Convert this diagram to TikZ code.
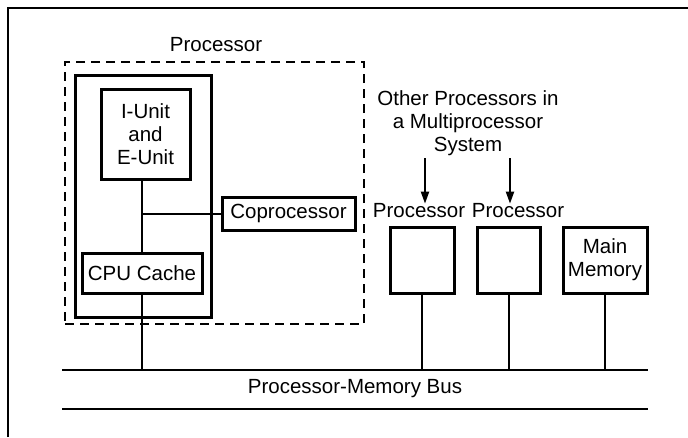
\documentclass[tikz,border=0pt]{standalone}
\usepackage{fontspec}
\setmainfont{Liberation Sans}
\usetikzlibrary{arrows.meta}
\begin{document}
\begin{tikzpicture}[x=1pt,y=-1pt,
  txt/.style={font=\fontsize{20.5}{23}\selectfont, inner sep=0pt, align=center},
  unitbox/.style={draw, line width=3pt, inner sep=0pt, font=\fontsize{20.5}{23}\selectfont, align=center},
  wire/.style={line width=2pt},
  busline/.style={line width=2.5pt},
  arr/.style={line width=2pt, -{Triangle[length=12pt,width=8pt]}}]
\useasboundingbox (0,0) rectangle (688,437);
% frame
\coordinate (fTL) at (8,8);
\coordinate (fTR) at (688,8);
\coordinate (fBL) at (8,437);
\draw[line width=1.3pt] (fBL) -- (fTL) -- (fTR);
% processor group
\node[txt] (proclab) at (216,45) {Processor};
\node[draw, dash pattern=on 9pt off 6pt, line width=2pt, minimum width=299pt, minimum height=262pt, inner sep=0pt] (dash) at (214.5,193) {};
\node[draw, line width=3pt, minimum width=136pt, minimum height=242pt, inner sep=0pt] (cpubox) at (143,196) {};
\node[unitbox, minimum width=89pt, minimum height=90pt] (iunit) at (145.5,134) {I-Unit\\and\\E-Unit};
\node[unitbox, minimum width=120pt, minimum height=40pt] (cache) at (142,273) {CPU Cache};
\node[unitbox, minimum width=133pt, minimum height=33pt] (copro) at (288.5,213.5) {Coprocessor};
\draw[wire] (cache.north) -- (cache.north |- iunit.south);
\draw[wire] (cache.north |- copro.west) -- (copro.west);
% bus
\coordinate (busL) at (62,370);
\coordinate (busR) at (648,370);
\coordinate (busL2) at (62,409);
\coordinate (busR2) at (648,409);
\draw[busline] (busL) -- (busR);
\draw[busline] (busL2) -- (busR2);
\node[txt] (buslab) at (355,389) {Processor-Memory Bus};
\draw[wire] (cache.south) -- (cache.south |- busL);
% other processors
\node[txt] (other) at (468,123) {Other Processors in\\a Multiprocessor\\System};
\node[txt] (p1lab) at (419,211) {Processor};
\node[txt] (p2lab) at (518,211) {Processor};
\coordinate (a1) at (425,158);
\coordinate (a2) at (510,158);
\draw[arr] (a1) -- (a1 |- p1lab.north);
\draw[arr] (a2) -- (a2 |- p2lab.north);
\node[unitbox, minimum width=64pt, minimum height=66pt] (p1) at (422,260) {};
\node[unitbox, minimum width=63pt, minimum height=66pt] (p2) at (508.5,260) {};
\node[unitbox, minimum width=84pt, minimum height=66pt] (mem) at (605,260) {Main\\Memory};
\draw[wire] (p1.south) -- (p1.south |- busL);
\draw[wire] (p2.south) -- (p2.south |- busL);
\draw[wire] (mem.south) -- (mem.south |- busL);
\end{tikzpicture}
\end{document}
